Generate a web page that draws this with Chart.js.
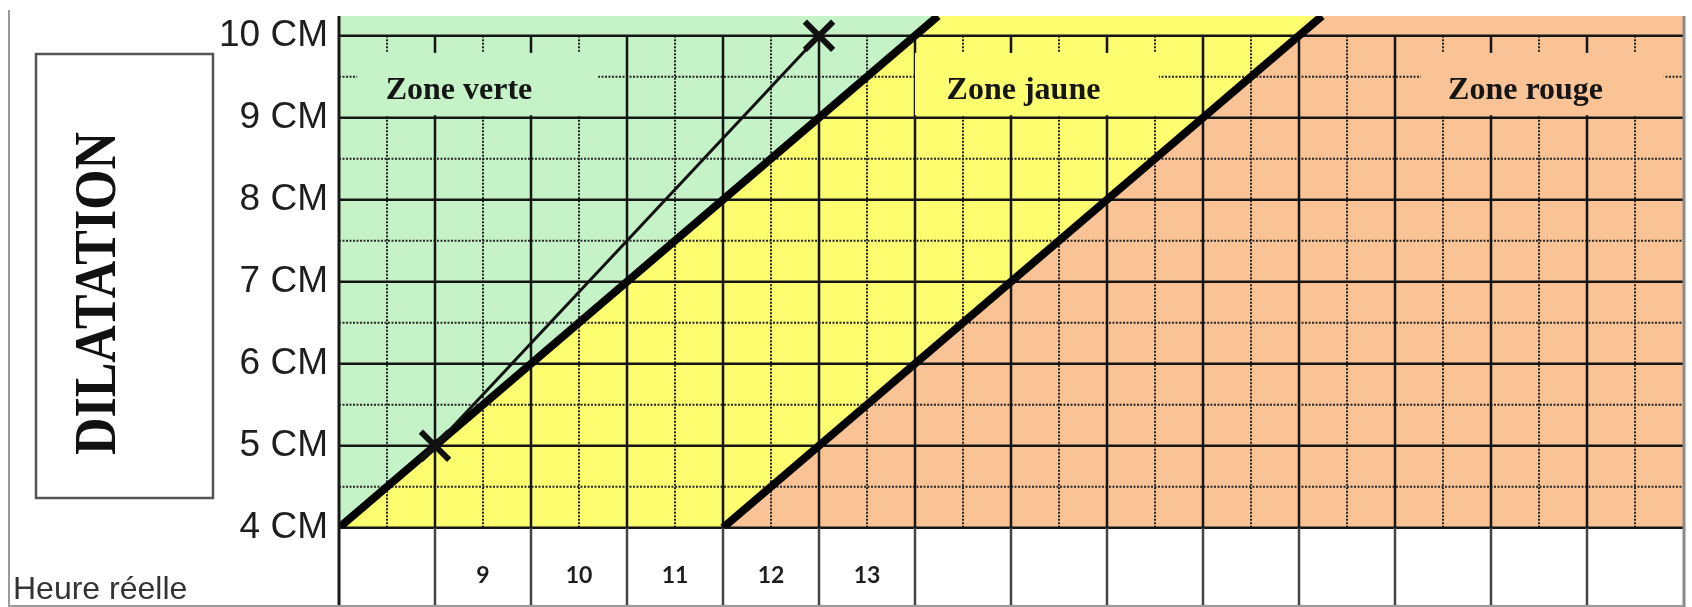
<!DOCTYPE html>
<html>
<head>
<meta charset="utf-8">
<title>Partogramme</title>
<script src="https://cdn.jsdelivr.net/npm/chart.js@4.4.1/dist/chart.umd.min.js"></script>
<style>
    html, body { margin: 0; padding: 0; background: #fff; }
    #wrap { width: 1692px; height: 607px; }
</style>
</head>
<body>
<div id="wrap"><canvas id="partogramme" width="1692" height="607"></canvas></div>
<script>
/* Data */
const heures = ['', '9', '10', '11', '12', '13', '', '', '', '', '', '', '', ''];
const dilatationCm = [4, 5, 6, 7, 8, 9, 10];
const ligneAlerte = [{ x: 0, y: 4 }, { x: 6.24, y: 10.24 }];
const ligneAction = [{ x: 4, y: 4 }, { x: 10.24, y: 10.24 }];
const courbePatiente = [{ x: 1, y: 5 }, { x: 5, y: 10 }];
const zonesNoms = ['Zone verte', 'Zone jaune', 'Zone rouge'];

const X_MAX = heures.length;
const Y_MIN = 4;
const Y_MAX = 10.24;

const VERT = '#c6f2c8';
const JAUNE = '#fdfd70';
const ORANGE = '#f9c396';

/* Grid, frame and texts */
const grillePlugin = {
    id: 'grille',
    beforeDatasetsDraw(chart, args, opts) {
        const { ctx, scales: { x, y } } = chart;
        const x0 = x.getPixelForValue(0);
        const x1 = x.getPixelForValue(X_MAX);
        const yBas = y.getPixelForValue(Y_MIN);
        const yHaut = y.getPixelForValue(10);

        ctx.save();
        // dotted half lines
        ctx.setLineDash([2, 1.5]);
        ctx.lineWidth = 2;
        ctx.strokeStyle = '#262626';
        for (let h = 0.5; h < X_MAX; h += 1) {
            const px = x.getPixelForValue(h);
            ctx.beginPath();
            ctx.moveTo(px, yHaut);
            ctx.lineTo(px, yBas);
            ctx.stroke();
        }
        dilatationCm.slice(0, -1).forEach(v => {
            const py = y.getPixelForValue(v + 0.5);
            ctx.beginPath();
            ctx.moveTo(x0, py);
            ctx.lineTo(x1, py);
            ctx.stroke();
        });

        // solid lines
        ctx.setLineDash([]);
        ctx.lineWidth = 2.5;
        ctx.strokeStyle = '#151515';
        for (let h = 1; h < X_MAX; h++) {
            const px = x.getPixelForValue(h);
            ctx.beginPath();
            ctx.moveTo(px, yHaut);
            ctx.lineTo(px, yBas);
            ctx.stroke();
        }
        dilatationCm.forEach(v => {
            const py = y.getPixelForValue(v);
            ctx.beginPath();
            ctx.moveTo(x0, py);
            ctx.lineTo(x1, py);
            ctx.stroke();
        });

        // boxes behind the zone names
        opts.boites.forEach((b, i) => {
            ctx.fillStyle = opts.couleurs[i];
            const left = x.getPixelForValue(b[0]);
            const right = x.getPixelForValue(b[1]);
            const top = y.getPixelForValue(opts.boiteHaut);
            const bottom = y.getPixelForValue(opts.boiteBas);
            ctx.fillRect(left, top, right - left, bottom - top);
        });
        ctx.restore();
    },
    afterDraw(chart, args, opts) {
        const { ctx, chartArea, scales: { x, y } } = chart;
        const yBas = y.getPixelForValue(Y_MIN);
        const H = chart.height;
        ctx.save();

        // hour columns below the grid
        ctx.lineWidth = 2.5;
        ctx.strokeStyle = '#444';
        for (let h = 1; h < X_MAX; h++) {
            const px = x.getPixelForValue(h);
            ctx.beginPath();
            ctx.moveTo(px, yBas);
            ctx.lineTo(px, H);
            ctx.stroke();
        }
        ctx.lineWidth = 3;
        ctx.strokeStyle = '#1a1a1a';
        ctx.beginPath();
        ctx.moveTo(x.getPixelForValue(0), chartArea.top);
        ctx.lineTo(x.getPixelForValue(0), H);
        ctx.stroke();
        ctx.strokeStyle = '#8a8a8a';
        ctx.beginPath();
        ctx.moveTo(x.getPixelForValue(X_MAX) + 1, chartArea.top);
        ctx.lineTo(x.getPixelForValue(X_MAX) + 1, H);
        ctx.stroke();

        // outer frame
        ctx.lineWidth = 2;
        ctx.strokeStyle = '#9a9a9a';
        ctx.beginPath();
        ctx.moveTo(9, 10);
        ctx.lineTo(9, H - 1);
        ctx.lineTo(x.getPixelForValue(X_MAX) + 1, H - 1);
        ctx.stroke();

        // zone names
        ctx.fillStyle = '#151515';
        ctx.font = 'bold 32px "Liberation Serif", serif';
        ctx.textAlign = 'center';
        ctx.textBaseline = 'middle';
        zonesNoms.forEach((nom, i) => {
            ctx.fillText(nom, x.getPixelForValue(opts.nomsX[i]), y.getPixelForValue(opts.nomsY));
        });

        // DILATATION box
        ctx.lineWidth = 2.5;
        ctx.strokeStyle = '#555';
        ctx.strokeRect(36, 54, 177, 444);
        ctx.save();
        ctx.translate(95, 293.5);
        ctx.rotate(-Math.PI / 2);
        ctx.scale(0.88, 1);
        ctx.font = 'bold 59px "Liberation Serif", serif';
        ctx.textAlign = 'center';
        ctx.textBaseline = 'alphabetic';
        ctx.fillStyle = '#111';
        ctx.fillText('DILATATION', 0, 19.5);
        ctx.restore();

        // row title
        ctx.font = '32px "Liberation Sans", Arial, sans-serif';
        ctx.fillStyle = '#333';
        ctx.textAlign = 'left';
        ctx.textBaseline = 'alphabetic';
        ctx.fillText('Heure réelle', 13, 599);
        ctx.restore();
    }
};

function sansMarges(scale) {
    scale.paddingTop = 0;
    scale.paddingBottom = 0;
    scale.paddingLeft = 0;
    scale.paddingRight = 0;
}

const ctx = document.getElementById('partogramme').getContext('2d');

const partogramme = new Chart(ctx, {
    type: 'line',
    data: {
        datasets: [
            {
                label: 'Courbe de dilatation',
                data: courbePatiente,
                borderColor: '#111',
                borderWidth: 3,
                pointStyle: 'crossRot',
                pointRadius: 20,
                pointBorderWidth: 6,
                pointBorderColor: '#111',
                fill: false,
                clip: false
            },
            {
                label: "Ligne d'alerte",
                data: ligneAlerte,
                borderColor: '#000',
                borderWidth: 8,
                pointRadius: 0,
                fill: false,
                clip: 0
            },
            {
                label: "Ligne d'action",
                data: ligneAction,
                borderColor: '#000',
                borderWidth: 8,
                pointRadius: 0,
                fill: false,
                clip: 0
            },
            {
                label: 'Zone verte',
                data: ligneAlerte,
                borderWidth: 0,
                pointRadius: 0,
                backgroundColor: VERT,
                fill: 'end'
            },
            {
                label: 'Zone rouge',
                data: ligneAction.concat([{ x: X_MAX, y: Y_MAX }]),
                borderWidth: 0,
                pointRadius: 0,
                backgroundColor: ORANGE,
                fill: 'start'
            },
            {
                label: 'Zone jaune',
                data: [{ x: 0, y: Y_MAX }, { x: X_MAX, y: Y_MAX }],
                borderWidth: 0,
                pointRadius: 0,
                backgroundColor: JAUNE,
                fill: 'start'
            }
        ]
    },
    options: {
        responsive: false,
        animation: false,
        devicePixelRatio: 1,
        layout: {
            autoPadding: false,
            padding: { left: 0, top: 16, right: 9, bottom: 0 }
        },
        scales: {
            x: {
                type: 'linear',
                min: 0,
                max: X_MAX,
                grid: { display: false, drawTicks: false },
                border: { display: false },
                afterBuildTicks: scale => {
                    scale.ticks = heures.map((h, i) => ({ value: i + 0.5 }));
                },
                afterFit: scale => {
                    scale.height = 79.3;
                    sansMarges(scale);
                },
                ticks: {
                    autoSkip: false,
                    maxRotation: 0,
                    padding: 34,
                    color: '#1e1e1e',
                    font: { family: 'Lato, "Open Sans", sans-serif', size: 23, weight: 'bold' },
                    callback: (value, index) => heures[index]
                }
            },
            y: {
                type: 'linear',
                min: Y_MIN,
                max: Y_MAX,
                grid: { display: false, drawTicks: false },
                border: { display: false },
                afterBuildTicks: scale => {
                    scale.ticks = dilatationCm.map(v => ({ value: v }));
                },
                afterFit: scale => {
                    scale.width = 339;
                    sansMarges(scale);
                },
                ticks: {
                    padding: 11,
                    color: '#1e1e1e',
                    font: { family: '"Liberation Sans", Arial, sans-serif', size: 37 },
                    callback: value => value + ' CM'
                }
            }
        },
        plugins: {
            legend: { display: false },
            tooltip: { enabled: false },
            filler: { drawTime: 'beforeDraw' },
            grille: {
                boites: [[0.19, 2.7], [6.0, 8.54], [11.27, 13.8]],
                couleurs: [VERT, JAUNE, ORANGE],
                boiteHaut: 9.79,
                boiteBas: 9.03,
                nomsX: [1.25, 7.13, 12.36],
                nomsY: 9.33
            }
        }
    },
    plugins: [grillePlugin]
});
</script>
</body>
</html>
